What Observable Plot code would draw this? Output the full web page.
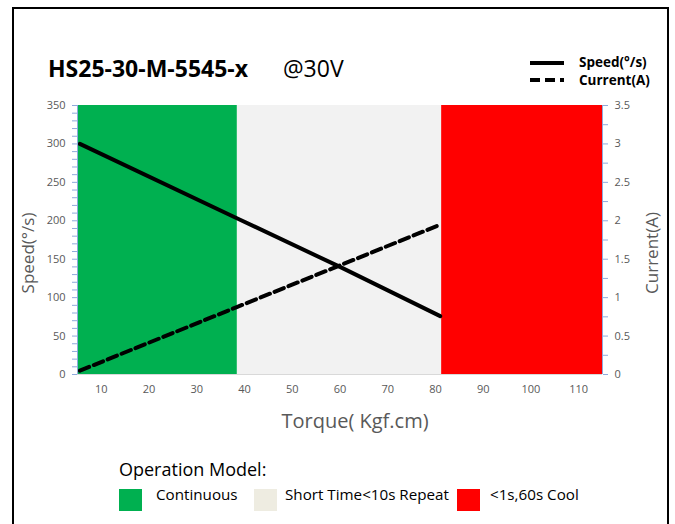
<!DOCTYPE html>
<html>
<head>
<meta charset="utf-8">
<script src="https://cdn.jsdelivr.net/npm/d3@7"></script>
<script src="https://cdn.jsdelivr.net/npm/@observablehq/plot@0.6"></script>
<style>
  html, body { margin: 0; padding: 0; background: #fff; }
  body { width: 675px; height: 524px; position: relative; overflow: hidden; font-family: "Open Sans", "Noto Sans", sans-serif; }
  #frame { position: absolute; left: 12px; top: 7px; width: 657px; height: 600px; border: 2px solid #000; box-sizing: border-box; }
  .abs { position: absolute; white-space: nowrap; }
  #chart { position: absolute; left: 0; top: 95px; }
  .sw { position: absolute; width: 23px; height: 22px; }
</style>
</head>
<body>
<div id="frame"></div>
<div class="abs" style="left:48px; top:52px; font-size:23px; font-weight:700; color:#000;">HS25-30-M-5545-x</div>
<div class="abs" style="left:283px; top:52px; font-size:23px; color:#000;">@30V</div>
<svg class="abs" style="left:528px; top:55px;" width="40" height="32">
  <line x1="2" y1="8" x2="36" y2="8" stroke="#000" stroke-width="4"/>
  <line x1="2" y1="25" x2="36" y2="25" stroke="#000" stroke-width="4" stroke-dasharray="10,5"/>
</svg>
<div class="abs" style="left:579px; top:53px; font-size:13.5px; font-weight:700;">Speed(°/s)</div>
<div class="abs" style="left:579px; top:71px; font-size:13.5px; font-weight:700;">Current(A)</div>
<div id="chart"></div>
<div class="abs" style="left:27px; top:253px; font-size:17px; color:#595959; transform: translate(-50%,-50%) rotate(-90deg);">Speed(°/s)</div>
<div class="abs" style="left:651px; top:253px; font-size:17px; color:#595959; transform: translate(-50%,-50%) rotate(-90deg);">Current(A)</div>
<div class="abs" style="left:355px; top:420px; font-size:20px; color:#595959; transform: translate(-50%,-50%);">Torque( Kgf.cm)</div>
<div class="abs" style="left:119px; top:457px; font-size:18px; color:#000;">Operation Model:</div>
<div id="legend"></div>
<script>
const torque = [5.5, 38.5, 60, 81];
const speed = [300, 203, 140, 76];
const current = [0.05, 0.88, 1.42, 1.95];

const zoneNames = ["Continuous", "Short Time<10s Repeat", "<1s,60s Cool"];
const zoneStart = [5, 38.5, 81.3];
const zoneEnd = [38.5, 81.3, 115];
const zoneColors = ["#00B050", "#F2F2F2", "#FF0000"];
const legendSwatch = ["#00B050", "#EEECE1", "#FF0000"];

const xTicks = [10, 20, 30, 40, 50, 60, 70, 80, 90, 100, 110];
const speedTicks = [0, 50, 100, 150, 200, 250, 300, 350];
const currentTicks = [0, 0.5, 1, 1.5, 2, 2.5, 3, 3.5];

const zones = zoneNames.map((n, i) => ({name: n, x1: zoneStart[i], x2: zoneEnd[i]}));
const speedData = torque.map((t, i) => ({t, v: speed[i]}));
const currentData = torque.map((t, i) => ({t, v: current[i] * 100}));

const axisBlue = "#8FAADC";
const tickGray = "#595959";

const chart = Plot.plot({
  width: 675,
  height: 340,
  marginLeft: 77,
  marginRight: 73,
  marginTop: 10,
  marginBottom: 61,
  style: {fontFamily: "'Open Sans', sans-serif", fontSize: "11px", color: tickGray, background: "transparent"},
  x: {domain: [5, 115]},
  y: {domain: [0, 350]},
  color: {domain: zoneNames, range: zoneColors},
  marks: [
    Plot.rect(zones, {x1: "x1", x2: "x2", y1: 0, y2: 350, fill: "name"}),
    Plot.ruleY([0], {stroke: "#D9D9D9"}),
    Plot.line(speedData, {x: "t", y: "v", stroke: "#000", strokeWidth: 4}),
    Plot.line(currentData, {x: "t", y: "v", stroke: "#000", strokeWidth: 4, strokeDasharray: "10,5"}),
    Plot.ruleX([5, 115], {stroke: axisBlue}),
    Plot.axisY(d3.range(0, 351, 10), {anchor: "left", tickSize: 5, tickFormat: () => "", stroke: axisBlue, label: null}),
    Plot.axisY(d3.range(0, 351, 25), {anchor: "right", tickSize: 5, tickFormat: () => "", stroke: axisBlue, label: null}),
    Plot.axisY(speedTicks, {anchor: "left", tickSize: 0, tickPadding: 12, fill: tickGray, label: null}),
    Plot.axisY(currentTicks.map(c => c * 100), {anchor: "right", tickSize: 0, tickPadding: 12, fill: tickGray, label: null, tickFormat: d => String(d / 100)}),
    Plot.axisX(xTicks, {anchor: "bottom", tickSize: 0, tickPadding: 11, fill: tickGray, label: null})
  ]
});
document.getElementById("chart").appendChild(chart);

const lg = document.getElementById("legend");
const swX = [119, 254, 457];
const txX = [156, 285, 490];
zoneNames.forEach((n, i) => {
  const s = document.createElement("div");
  s.className = "sw";
  s.style.left = swX[i] + "px"; s.style.top = "489px"; s.style.background = legendSwatch[i];
  lg.appendChild(s);
  const t = document.createElement("div");
  t.className = "abs";
  t.style.left = txX[i] + "px"; t.style.top = "484px"; t.style.fontSize = "15.2px";
  t.textContent = n;
  lg.appendChild(t);
});
</script>
</body>
</html>
